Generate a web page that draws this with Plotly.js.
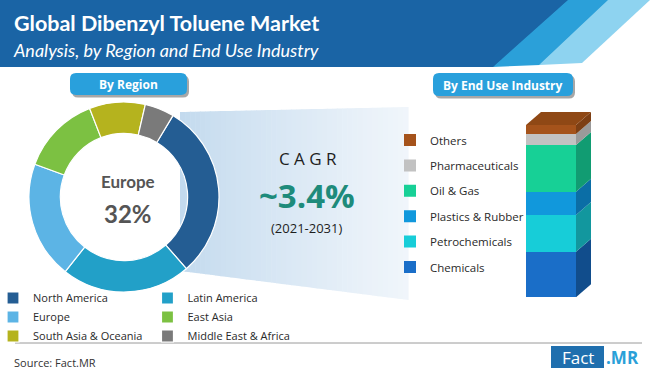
<!DOCTYPE html>
<html><head><meta charset="utf-8">
<script src="https://cdn.plot.ly/plotly-3.0.1.min.js"></script>
<style>html,body{margin:0;padding:0;background:#fff;} #chart{width:650px;height:374px;}</style>
</head><body><div id="chart"></div>
<script>
// ---------- data ----------
const regionLabels = ['North America', 'Latin America', 'Europe', 'East Asia', 'South Asia & Oceania', 'Middle East & Africa'];
const regionValues = [30, 22, 20, 13.5, 9.5, 5];
const regionColors = ['#245d93', '#22a0c8', '#5cb4e5', '#7cc142', '#b5b31e', '#7a7a7a'];

const industryLabels = ['Chemicals', 'Petrochemicals', 'Plastics & Rubber', 'Oil & Gas', 'Pharmaceuticals', 'Others'];
const industryValues = [26.5, 21.3, 13.5, 27.1, 6.4, 5.2];
const industryColors = ['#1a6ec8', '#17cdd8', '#1198dc', '#17d096', '#c2c2c2', '#a5531b'];
const industrySideColors = ['#114d8c', '#12979e', '#0b6ea6', '#119c72', '#9a9a9a', '#7d3f14'];
const industryTopColor = '#8f4815';

const titleText = 'Global Dibenzyl Toluene Market';
const subtitleText = 'Analysis, by Region and End Use Industry';
const highlightRegion = 'Europe';
const highlightShare = '32%';
const cagrLabel = 'C A G R';
const cagrValue = '~3.4%';
const cagrPeriod = '(2021-2031)';
const sourceText = 'Source: Fact.MR';

// ---------- helpers ----------
const W = 650, H = 374;
const X = p => p / W;
const Y = p => 1 - p / H;
function pathPx(pts) {
  return 'M' + pts.map(p => X(p[0]).toFixed(5) + ',' + Y(p[1]).toFixed(5)).join('L') + 'Z';
}
function roundRect(x0, y0, x1, y1, r) {
  const P = (x, y) => X(x).toFixed(5) + ',' + Y(y).toFixed(5);
  return 'M' + P(x0 + r, y0) + 'L' + P(x1 - r, y0) + 'Q' + P(x1, y0) + ' ' + P(x1, y0 + r) +
    'L' + P(x1, y1 - r) + 'Q' + P(x1, y1) + ' ' + P(x1 - r, y1) +
    'L' + P(x0 + r, y1) + 'Q' + P(x0, y1) + ' ' + P(x0, y1 - r) +
    'L' + P(x0, y0 + r) + 'Q' + P(x0, y0) + ' ' + P(x0 + r, y0) + 'Z';
}
function hexToRgb(h) { return [1, 3, 5].map(i => parseInt(h.substr(i, 2), 16)); }
function mix(a, b, t) {
  const A = hexToRgb(a), B = hexToRgb(b);
  return 'rgb(' + A.map((v, i) => Math.round(v + (B[i] - v) * t)).join(',') + ')';
}

const shapes = [];
const annotations = [];

// header
shapes.push({type: 'path', xref: 'paper', yref: 'paper', path: pathPx([[0, 0], [569, 0], [494, 67], [0, 67]]), fillcolor: '#1a64a5', line: {width: 0}});
shapes.push({type: 'path', xref: 'paper', yref: 'paper', path: pathPx([[568, 0], [609, 0], [540, 65], [493, 67]]), fillcolor: '#2ba0d9', line: {width: 0}});
shapes.push({type: 'path', xref: 'paper', yref: 'paper', path: pathPx([[608, 0], [650, 0], [582, 63], [539, 65]]), fillcolor: '#8ed3f0', line: {width: 0}});

// beam gradient from donut
const N = 45;
const bx0 = 180, bx1 = 408;
for (let k = 0; k < N; k++) {
  const t0 = k / N, t1 = (k + 1) / N;
  const xa = bx0 + (bx1 - bx0) * t0, xb = bx0 + (bx1 - bx0) * t1 + 0.6;
  const ta = 112 + (107 - 112) * t0, tb = 112 + (107 - 112) * t1;
  const ba = 271 + (300 - 271) * t0, bb = 271 + (300 - 271) * t1;
  shapes.push({type: 'path', xref: 'paper', yref: 'paper', layer: 'below',
    path: pathPx([[xa, ta], [xb, tb], [xb, bb], [xa, ba]]),
    fillcolor: mix('#c3daee', '#f1f6fb', Math.pow(t0, 0.9)), line: {width: 0}});
}

// pills
function pill(x0, y0, x1, y1, text) {
  shapes.push({type: 'path', xref: 'paper', yref: 'paper', path: roundRect(x0 + 2, y0 + 2.5, x1 + 2, y1 + 2.5, 6), fillcolor: 'rgba(60,60,60,0.45)', line: {width: 0}});
  shapes.push({type: 'path', xref: 'paper', yref: 'paper', path: roundRect(x0, y0, x1, y1, 6), fillcolor: '#29a0dc', line: {width: 0}});
  annotations.push({xref: 'paper', yref: 'paper', x: X((x0 + x1) / 2), y: Y((y0 + y1) / 2 + 0.5), text: '<b>' + text + '</b>', showarrow: false,
    xanchor: 'center', yanchor: 'middle', font: {family: 'Open Sans, sans-serif', size: 12, color: '#ffffff'}});
}
pill(70, 73, 187, 95, 'By Region');
pill(433, 73, 573, 96, 'By End Use Industry');

// separator line and logo
shapes.push({type: 'line', xref: 'paper', yref: 'paper', x0: X(15), x1: X(642), y0: Y(343), y1: Y(343), line: {color: '#9a9a9a', width: 1}});
shapes.push({type: 'rect', xref: 'paper', yref: 'paper', x0: X(551), x1: X(604), y0: Y(346), y1: Y(368), fillcolor: '#1f6fae', line: {width: 0}});

// ---------- 3D stacked bar geometry (bar axis) ----------
const barLeftPx = 526, unitPx = 50, domL = 516, domR = 600;
const baseYpx = 297.3, fullYpx = 125, domTopPx = 105;
const total = industryValues.reduce((a, b) => a + b, 0);
const pxPerUnit = (baseYpx - fullYpx) / total;
const xr0 = -0.5 - (barLeftPx - domL) / unitPx;
const xr1 = xr0 + (domR - domL) / unitPx;
const yr1 = (baseYpx - domTopPx) / pxPerUnit;
const dxU = 15 / unitPx, dyU = 13 / pxPerUnit;

let cum = 0;
industryValues.forEach((v, i) => {
  const b0 = cum, b1 = cum + v; cum = b1;
  shapes.push({type: 'path', xref: 'x', yref: 'y',
    path: `M0.5,${b0}L${0.5 + dxU},${b0 + dyU}L${0.5 + dxU},${b1 + dyU}L0.5,${b1}Z`,
    fillcolor: industrySideColors[i], line: {width: 0}});
});
shapes.push({type: 'path', xref: 'x', yref: 'y',
  path: `M-0.5,${total}L0.5,${total}L${0.5 + dxU},${total + dyU}L${-0.5 + dxU},${total + dyU}Z`,
  fillcolor: industryTopColor, line: {width: 0}});

// ---------- traces ----------
const traces = [];
traces.push({
  type: 'pie', labels: regionLabels, values: regionValues, sort: false, direction: 'clockwise', rotation: 31,
  hole: 0.67, textinfo: 'none', hoverinfo: 'skip',
  marker: {colors: regionColors, line: {color: '#ffffff', width: 1.2}},
  domain: {x: [X(29), X(219)], y: [Y(292), Y(102)]},
  legend: 'legend'
});
industryLabels.forEach((lab, i) => {
  traces.push({
    type: 'bar', x: [0], y: [industryValues[i]], width: 1, name: lab,
    marker: {color: industryColors[i], line: {width: 0}},
    xaxis: 'x', yaxis: 'y', legend: 'legend2', legendgroup: 'g' + i,
    legendrank: industryLabels.length - i, hoverinfo: 'skip'
  });
});

// ---------- text ----------
annotations.push(
  {xref: 'paper', yref: 'paper', x: X(12), y: Y(23), xanchor: 'left', yanchor: 'middle', showarrow: false,
    text: '<b>' + titleText + '</b>', font: {family: 'Lato, sans-serif', size: 21.5, color: '#ffffff'}},
  {xref: 'paper', yref: 'paper', x: X(11), y: Y(50), xanchor: 'left', yanchor: 'middle', showarrow: false,
    text: '<i>' + subtitleText + '</i>', font: {family: 'Lato, sans-serif', size: 18, color: '#ffffff'}},
  {xref: 'paper', yref: 'paper', x: X(128), y: Y(182), xanchor: 'center', yanchor: 'middle', showarrow: false,
    text: '<b>' + highlightRegion + '</b>', font: {family: 'Lato, sans-serif', size: 17, color: '#555555'}},
  {xref: 'paper', yref: 'paper', x: X(128), y: Y(214), xanchor: 'center', yanchor: 'middle', showarrow: false,
    text: '<b>' + highlightShare + '</b>', font: {family: 'Lato, sans-serif', size: 24, color: '#555555'}},
  {xref: 'paper', yref: 'paper', x: X(308), y: Y(159), xanchor: 'center', yanchor: 'middle', showarrow: false,
    text: cagrLabel, font: {family: 'Open Sans, sans-serif', size: 17, color: '#1e1e1e'}},
  {xref: 'paper', yref: 'paper', x: X(307), y: Y(195), xanchor: 'center', yanchor: 'middle', showarrow: false,
    text: '<b>' + cagrValue + '</b>', font: {family: 'Open Sans, sans-serif', size: 33, color: '#1e8b7b'}},
  {xref: 'paper', yref: 'paper', x: X(306), y: Y(228), xanchor: 'center', yanchor: 'middle', showarrow: false,
    text: cagrPeriod, font: {family: 'Open Sans, sans-serif', size: 13, color: '#1e1e1e'}},
  {xref: 'paper', yref: 'paper', x: X(12), y: Y(362), xanchor: 'left', yanchor: 'middle', showarrow: false,
    text: sourceText, font: {family: 'Open Sans, sans-serif', size: 11, color: '#333333'}},
  {xref: 'paper', yref: 'paper', x: X(577.5), y: Y(357), xanchor: 'center', yanchor: 'middle', showarrow: false,
    text: 'Fact', font: {family: 'Open Sans, sans-serif', size: 17, color: '#ffffff'}},
  {xref: 'paper', yref: 'paper', x: X(604), y: Y(357), xanchor: 'left', yanchor: 'middle', showarrow: false,
    text: '<b>.MR</b>', font: {family: 'Open Sans, sans-serif', size: 17, color: '#2aa0d8'}}
);

const layout = {
  width: W, height: H,
  margin: {l: 0, r: 0, t: 0, b: 0, pad: 0, autoexpand: false},
  paper_bgcolor: '#ffffff', plot_bgcolor: 'rgba(0,0,0,0)',
  showlegend: true, barmode: 'stack', hovermode: false,
  xaxis: {domain: [X(domL), X(domR)], range: [xr0, xr1], visible: false, fixedrange: true},
  yaxis: {domain: [Y(baseYpx), Y(domTopPx)], range: [0, yr1], visible: false, fixedrange: true},
  legend: {orientation: 'h', x: -7 / W, xanchor: 'left', y: Y(283.5), yanchor: 'top',
    bgcolor: 'rgba(0,0,0,0)', borderwidth: 0,
    font: {family: 'Open Sans, sans-serif', size: 11, color: '#2a2a2a'}},
  legend2: {orientation: 'v', x: X(390), xanchor: 'left', y: Y(125.5), yanchor: 'top',
    traceorder: 'grouped', tracegroupgap: 6.4,
    bgcolor: 'rgba(0,0,0,0)', borderwidth: 0,
    font: {family: 'Open Sans, sans-serif', size: 11.5, color: '#2a2a2a'}},
  shapes: shapes, annotations: annotations
};

Plotly.newPlot('chart', traces, layout, {displayModeBar: false, staticPlot: true});
</script>
</body></html>
